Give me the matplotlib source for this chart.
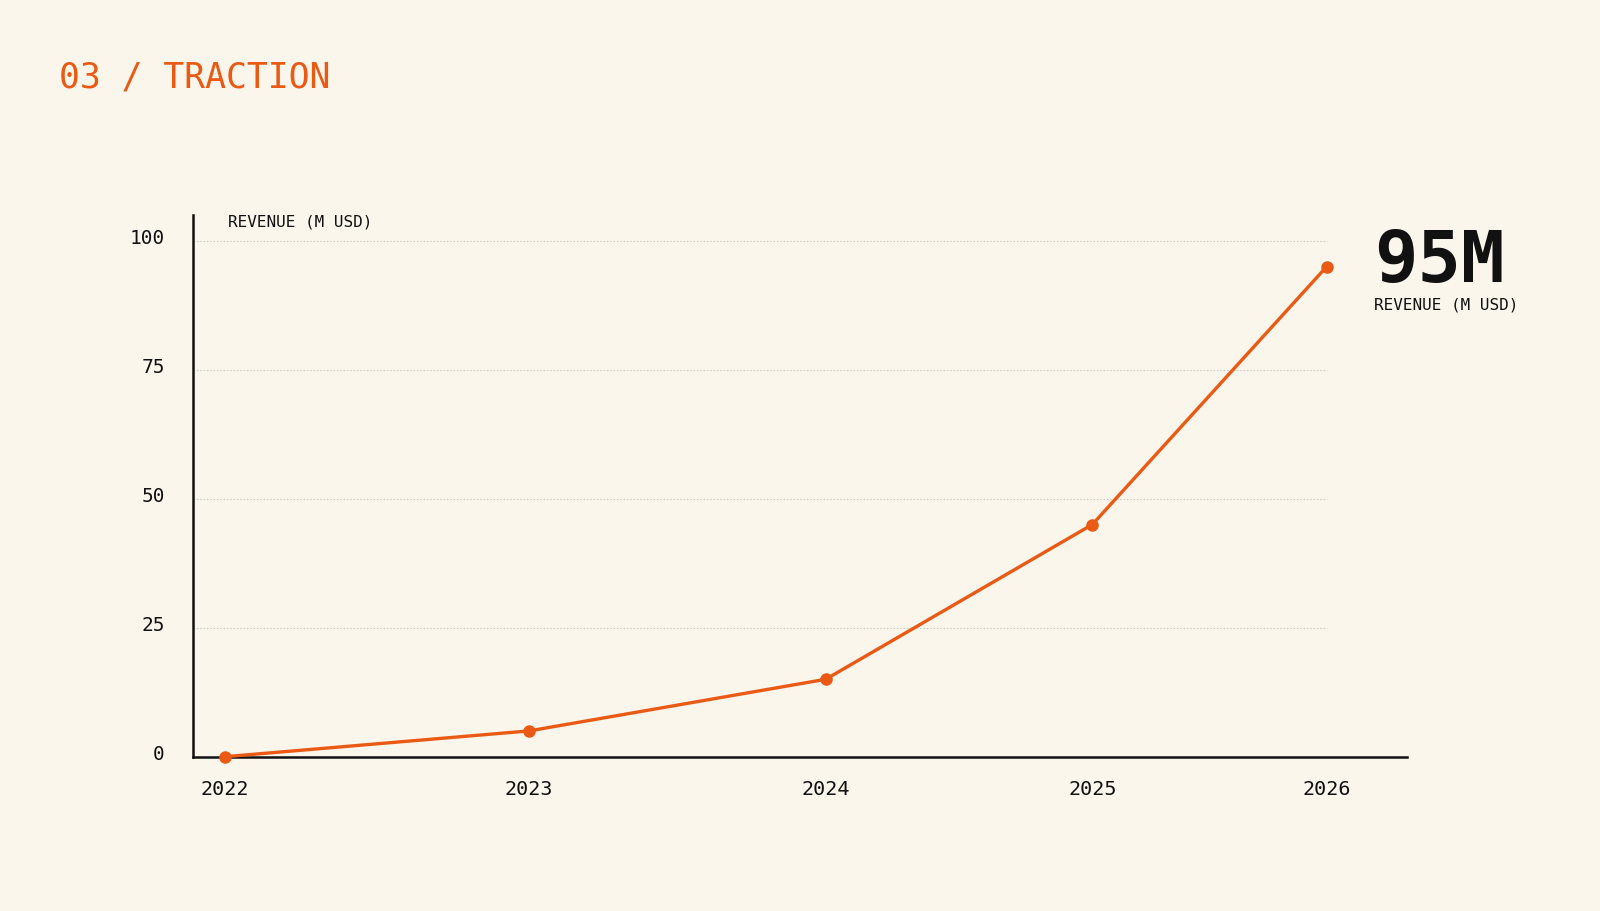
import matplotlib
matplotlib.use("Agg")
import matplotlib.pyplot as plt
from matplotlib.transforms import ScaledTranslation

# Data (x positions, in "years since 2022" units)
years = ["2022", "2023", "2024", "2025", "2026"]
x_pos = [0.0, 1.0, 1.975, 2.852, 3.623]
revenue = [0, 5, 15, 45, 95]
y_ticks = [0, 25, 50, 75, 100]

BG = "#FAF6EC"
ORANGE = "#EA5A14"
INK = "#111111"

plt.rcParams["font.family"] = ["DejaVu Sans Mono", "DejaVu Sans"]

fig = plt.figure(figsize=(16, 9.12), dpi=100, facecolor=BG)
ax = fig.add_axes([0.1204, 0.1692, 0.7588, 0.594], facecolor=BG)

ax.set_xlim(-0.107, 3.886)
ax.set_ylim(0, 105)

# dotted gridlines from the axis to the last point
ax.hlines(y_ticks[1:], -0.107, x_pos[-1], colors="#d0ccc2",
          linestyles=(0, (1.5, 1.5)), linewidth=0.8, zorder=1)

ax.plot(x_pos, revenue, color=ORANGE, linewidth=2.4, marker="o",
        markersize=8, zorder=3, clip_on=False)

for s in ["top", "right"]:
    ax.spines[s].set_visible(False)
for s in ["left", "bottom"]:
    ax.spines[s].set_color(INK)
    ax.spines[s].set_linewidth(1.8)

ax.set_xticks(x_pos)
ax.set_xticklabels(years)
ax.set_yticks(y_ticks)
ax.tick_params(axis="x", length=0, pad=16, labelsize=14.5, colors=INK)
ax.tick_params(axis="y", length=0, pad=20, labelsize=14, colors=INK)

# y labels sit a little above their gridlines
shift = ScaledTranslation(0, 5 / 100, fig.dpi_scale_trans)
for lbl in ax.get_yticklabels():
    lbl.set_transform(lbl.get_transform() + shift)

fig.text(0.0369, 0.9045, "03 / TRACTION", color=ORANGE, fontsize=25,
         va="baseline", ha="left")
fig.text(0.1427, 0.7563, "REVENUE (M USD)", color=INK, fontsize=11.5,
         va="center", ha="left")
fig.text(0.859, 0.6911, "95M", color=INK, fontsize=52, fontweight="bold",
         va="baseline", ha="left")
fig.text(0.859, 0.6652, "REVENUE (M USD)", color=INK, fontsize=11.5,
         va="center", ha="left")

fig.savefig("out.png", dpi=100, facecolor=BG)
